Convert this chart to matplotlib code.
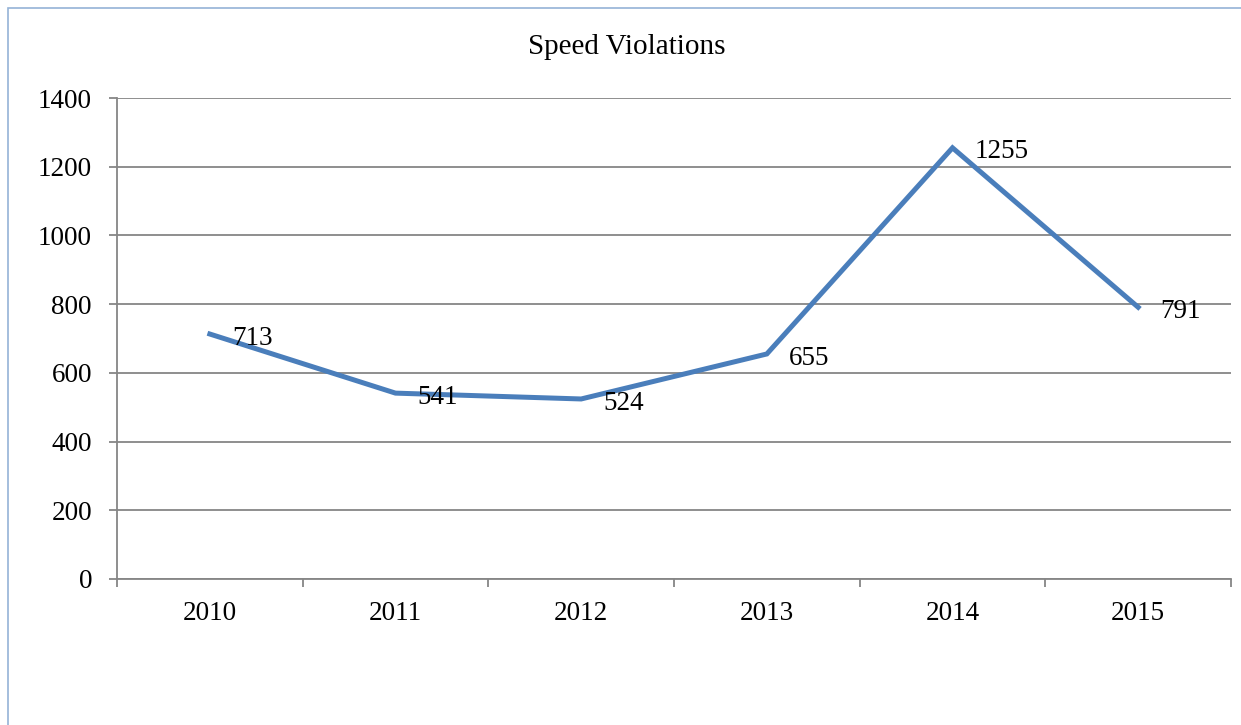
import matplotlib.pyplot as plt
from matplotlib.patches import Rectangle

years = ["2010", "2011", "2012", "2013", "2014", "2015"]
violations = [713, 541, 524, 655, 1255, 791]
y_ticks = [0, 200, 400, 600, 800, 1000, 1200, 1400]

plt.rcParams["font.family"] = ["Liberation Serif", "DejaVu Serif"]

W, H = 1241, 725
fig = plt.figure(figsize=(W / 100, H / 100), dpi=100)
ax = fig.add_axes([117 / W, 1 - 579 / H, (1231 - 117) / W, (579 - 98) / H])

# light blue chart frame (only left and top visible in the reference)
fig.add_artist(Rectangle((8 / W, -0.1), 1.2, 1 - 8 / H + 0.1, transform=fig.transFigure,
                         fill=False, edgecolor="#95B3D7", linewidth=1.2))

grid_c = "#868686"
fs = 19.5
x = [i + 0.5 for i in range(len(years))]
ax.plot(x, violations, color="#4A7EBB", linewidth=3.6, solid_joinstyle="miter", zorder=3)

for xi, v in zip(x, violations):
    ax.annotate(str(v), (xi, v), xytext=(16, -3), textcoords="offset points",
                ha="left", va="center", fontsize=fs)

ax.set_xlim(0, len(years))
ax.set_ylim(0, 1400)
ax.set_yticks(y_ticks)
ax.set_yticklabels([str(t) for t in y_ticks], fontsize=fs)
ax.set_xticks(range(len(years) + 1))
ax.set_xticklabels([])
ax.set_xticks(x, minor=True)
ax.set_xticklabels(years, minor=True, fontsize=fs)
ax.tick_params(axis="x", which="minor", length=0, pad=16)
ax.tick_params(axis="x", which="major", length=6, color=grid_c, width=1.3)
ax.tick_params(axis="y", length=6, color=grid_c, width=1.3, pad=12)

ax.yaxis.grid(True, color=grid_c, linewidth=1.3)
ax.set_axisbelow(True)
for s in ["top", "right"]:
    ax.spines[s].set_visible(False)
for s in ["left", "bottom"]:
    ax.spines[s].set_color(grid_c)
    ax.spines[s].set_linewidth(1.3)

fig.text(627 / W, 1 - 47 / H, "Speed Violations", ha="center", va="center", fontsize=21)

fig.savefig("out.png", dpi=100)
